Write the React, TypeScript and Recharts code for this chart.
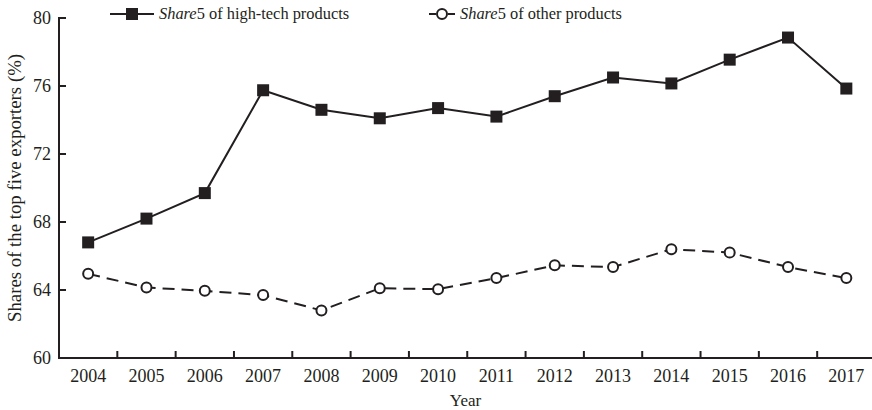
import { LineChart, Line, XAxis, YAxis } from 'recharts';

const years = [2004, 2005, 2006, 2007, 2008, 2009, 2010, 2011, 2012, 2013, 2014, 2015, 2016, 2017];
const highTech = [66.8, 68.2, 69.7, 75.75, 74.6, 74.1, 74.7, 74.2, 75.4, 76.5, 76.15, 77.55, 78.85, 75.85];
const otherProducts = [64.95, 64.15, 63.95, 63.7, 62.8, 64.1, 64.05, 64.7, 65.45, 65.35, 66.4, 66.2, 65.35, 64.7];
const yTicks = [60, 64, 68, 72, 76, 80];
const boundaryTicks = [2004.5, 2005.5, 2006.5, 2007.5, 2008.5, 2009.5, 2010.5, 2011.5, 2012.5, 2013.5, 2014.5, 2015.5, 2016.5];

const data = years.map((year, i) => ({
  year,
  high: highTech[i],
  other: otherProducts[i],
}));

const ink = '#231f20';
const font = '"Liberation Serif", "Times New Roman", serif';
const xDomain = [2003.5, 2017.44];

const SquareDot = (props: any) => {
  const { cx, cy, index } = props;
  if (cx == null || cy == null) return null;
  return <rect key={`sq-${index}`} x={cx - 6} y={cy - 6} width={12} height={12} fill={ink} />;
};

// y tick: label left of the axis, tick mark pointing into the plot
const YTick = (props: any) => {
  const { x, y, payload } = props;
  return (
    <g>
      <line x1={x + 7} y1={y} x2={x + 15} y2={y} stroke={ink} strokeWidth={2} />
      <text x={x} y={y} dy="0.35em" textAnchor="end" fill={ink} fontSize={18} fontFamily={font}>
        {payload.value}
      </text>
    </g>
  );
};

// boundary ticks carry no label, only the tick line
const NoLabel = () => <g />;

const LegendOverlay = () => (
  <div
    style={{
      position: 'absolute',
      top: 4,
      left: 110,
      display: 'flex',
      alignItems: 'center',
      fontFamily: font,
      fontSize: 16.4,
      color: ink,
      whiteSpace: 'nowrap',
    }}
  >
    <svg width={44} height={16} style={{ marginRight: 5 }}>
      <line x1={0} y1={8} x2={44} y2={8} stroke={ink} strokeWidth={2} />
      <rect x={16} y={2} width={12} height={12} fill={ink} />
    </svg>
    <span style={{ width: 270 }}>
      <i>Share</i>5 of high-tech products
    </span>
    <svg width={26} height={16} style={{ marginRight: 5 }}>
      <line x1={0} y1={8} x2={26} y2={8} stroke={ink} strokeWidth={2} strokeDasharray="7 12 7" />
      <circle cx={13} cy={8} r={5} fill="#fff" stroke={ink} strokeWidth={2} />
    </svg>
    <span>
      <i>Share</i>5 of other products
    </span>
  </div>
);

export default function App() {
  return (
    <div style={{ position: 'absolute', left: 0, top: 0, width: 872, height: 410 }}>
      <LineChart width={872} height={410} data={data} margin={{ top: 18, right: 0, left: 9, bottom: 22 }}>
        <XAxis
          xAxisId="ticks"
          dataKey="year"
          type="number"
          domain={xDomain}
          ticks={boundaryTicks}
          interval={0}
          mirror
          tick={NoLabel}
          tickSize={7}
          height={1}
          axisLine={{ stroke: ink, strokeWidth: 2 }}
          tickLine={{ stroke: ink, strokeWidth: 2 }}
          allowDataOverflow
        />
        <XAxis
          xAxisId="labels"
          dataKey="year"
          type="number"
          domain={xDomain}
          ticks={years}
          interval={0}
          axisLine={false}
          tickLine={false}
          tickMargin={5}
          height={30}
          tick={{ fill: ink, fontSize: 18, fontFamily: font }}
          label={{ value: 'Year', position: 'insideBottom', offset: -18, fill: ink, fontSize: 17, fontFamily: font }}
          allowDataOverflow
        />
        <YAxis
          domain={[60, 80]}
          ticks={yTicks}
          interval={0}
          width={50}
          tickSize={0}
          tickMargin={8}
          tickLine={false}
          axisLine={{ stroke: ink, strokeWidth: 2 }}
          tick={YTick}
          label={{
            value: 'Shares of the top five exporters (%)',
            angle: -90,
            position: 'insideLeft',
            offset: 5,
            style: { textAnchor: 'middle' },
            fill: ink,
            fontSize: 18.8,
            fontFamily: font,
          }}
        />
        <Line
          xAxisId="labels"
          dataKey="high"
          stroke={ink}
          strokeWidth={2}
          dot={SquareDot}
          activeDot={false}
          isAnimationActive={false}
        />
        <Line
          xAxisId="labels"
          dataKey="other"
          stroke={ink}
          strokeWidth={2}
          strokeDasharray="12 7"
          dot={{ r: 5, fill: '#fff', stroke: ink, strokeWidth: 2, strokeDasharray: 'none' }}
          activeDot={false}
          isAnimationActive={false}
        />
      </LineChart>
      <LegendOverlay />
    </div>
  );
}
